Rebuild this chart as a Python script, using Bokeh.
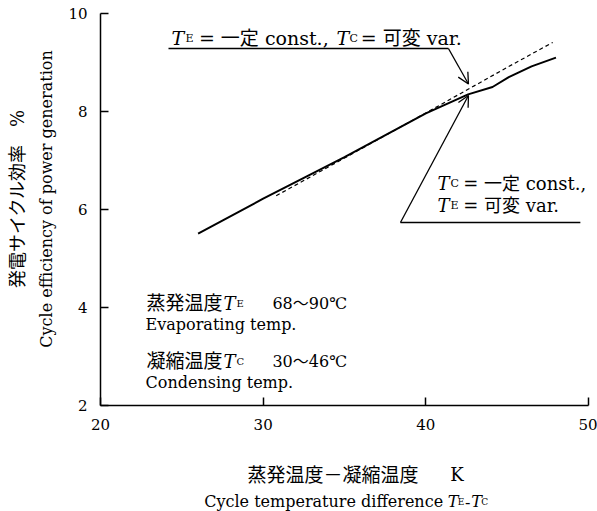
import math
from bokeh.plotting import figure
from bokeh.layouts import row, column
from bokeh.models import Label, Arrow, OpenHead, FixedTicker
from bokeh.embed import file_html
from bokeh.resources import INLINE

# ---- data ----
dt_solid = [26.0, 30.0, 35.0, 40.0, 42.6, 44.1, 45.1, 46.5, 48.0]
eff_solid = [5.51, 6.22, 7.07, 7.96, 8.35, 8.50, 8.70, 8.92, 9.10]
dt_dashed = [30.8, 35.0, 40.0, 45.0, 47.8]
eff_dashed = [6.28, 7.05, 7.97, 8.90, 9.41]
x_ticks = [20, 30, 40, 50]
y_ticks = [2, 4, 6, 8, 10]

SERIF = "DejaVu Serif, 'Noto Sans CJK JP'"


def bare(w, h, xr, yr):
    f = figure(width=w, height=h, x_range=xr, y_range=yr, output_backend="svg",
               toolbar_location=None, x_axis_type=None, y_axis_type=None,
               min_border=0)
    f.outline_line_color = None
    f.grid.visible = False
    return f


def lab(fig, x, y, text, size, style="normal", align="left", baseline="alphabetic", angle=0.0):
    fig.add_layout(Label(x=x, y=y, text=text, text_font=SERIF,
                         text_font_size=f"{size}px", text_font_style=style,
                         text_align=align, text_baseline=baseline, angle=angle,
                         text_color="black"))


# ---- main plot ----
p = figure(width=537, height=440, x_range=(20, 50), y_range=(2, 10),
           output_backend="svg", toolbar_location=None,
           min_border_left=40, min_border_right=9,
           min_border_top=13, min_border_bottom=35)
p.outline_line_color = None
p.grid.visible = False

for ax in (p.xaxis[0], p.yaxis[0]):
    ax.major_tick_in = 8
    ax.major_tick_out = 0
    ax.minor_tick_line_color = None
    ax.axis_line_width = 1.5
    ax.axis_line_color = "black"
    ax.major_tick_line_width = 1.5
    ax.major_tick_line_color = "black"
    ax.major_label_text_font = SERIF
    ax.major_label_text_font_size = "15px"
    ax.major_label_text_color = "black"
    ax.major_label_standoff = 13
p.xaxis.ticker = FixedTicker(ticks=x_ticks)
p.yaxis.ticker = FixedTicker(ticks=y_ticks)

p.line(dt_solid, eff_solid, line_color="black", line_width=2)
p.line(dt_dashed, eff_dashed, line_color="black", line_width=1.2, line_dash="4 3")


def seg(x0, y0, x1, y1, head=False):
    p.add_layout(Arrow(x_start=x0, y_start=y0, x_end=x1, y_end=y1,
                       line_color="black", line_width=1.3,
                       end=OpenHead(size=11, line_color="black", line_width=1.3) if head else None))


# top annotation: T_E = const., T_C = var.
lab(p, 24.36, 9.49, "T", 19, "italic")
lab(p, 25.22, 9.49, "E", 11)
lab(p, 26.05, 9.49, "= 一定 const.,", 19)
lab(p, 34.51, 9.49, "T", 19, "italic")
lab(p, 35.30, 9.49, "C", 11)
lab(p, 36.00, 9.49, "= 可変 var.", 19)
seg(24.18, 9.286, 41.39, 9.286)
seg(41.39, 9.286, 42.62, 8.561, head=True)

# lower-right annotation: T_C = const., T_E = var.
lab(p, 40.72, 6.531, "T", 18, "italic")
lab(p, 41.52, 6.531, "C", 11)
lab(p, 42.30, 6.531, "= 一定 const.,", 18)
lab(p, 40.72, 6.082, "T", 18, "italic")
lab(p, 41.52, 6.082, "E", 11)
lab(p, 42.30, 6.082, "= 可変 var.", 18)
seg(49.50, 5.735, 38.44, 5.735)
seg(38.44, 5.735, 42.62, 8.327, head=True)

# lower-left notes
lab(p, 27.50, 4.082, "蒸発温度", 19, align="right")
lab(p, 27.56, 4.082, "T", 18, "italic")
lab(p, 28.36, 4.082, "E", 10)
lab(p, 30.57, 4.082, "68〜90℃", 16)
lab(p, 22.77, 3.653, "Evaporating temp.", 16)
lab(p, 27.50, 2.898, "凝縮温度", 19, align="right")
lab(p, 27.56, 2.898, "T", 18, "italic")
lab(p, 28.36, 2.898, "C", 10)
lab(p, 30.57, 2.898, "30〜46℃", 16)
lab(p, 22.77, 2.469, "Condensing temp.", 16)

# ---- y-axis title strip (pixel coordinates) ----
left = bare(60, 511, (0, 60), (0, 511))
lab(left, 17, 313, "発電サイクル効率　%", 18, align="center", baseline="middle", angle=math.pi / 2)
lab(left, 46, 312.5, "Cycle efficiency of power generation", 16, align="center", baseline="middle", angle=math.pi / 2)

# ---- x-axis title strip (pixel coordinates) ----
bottom = bare(537, 71, (0, 537), (0, 71))
lab(bottom, 350, 37, "蒸発温度－凝縮温度", 19, align="right")
lab(bottom, 385, 37, "K", 18)
lab(bottom, 377, 10, "Cycle temperature difference", 16, align="right")
lab(bottom, 382, 10, "T", 16, "italic")
lab(bottom, 393, 10, "E", 9)
lab(bottom, 401, 10, "-", 16)
lab(bottom, 408, 10, "T", 16, "italic")
lab(bottom, 419, 10, "C", 9)

layout = row(left, column(p, bottom))
open("out.html", "w").write(file_html(layout, INLINE))
